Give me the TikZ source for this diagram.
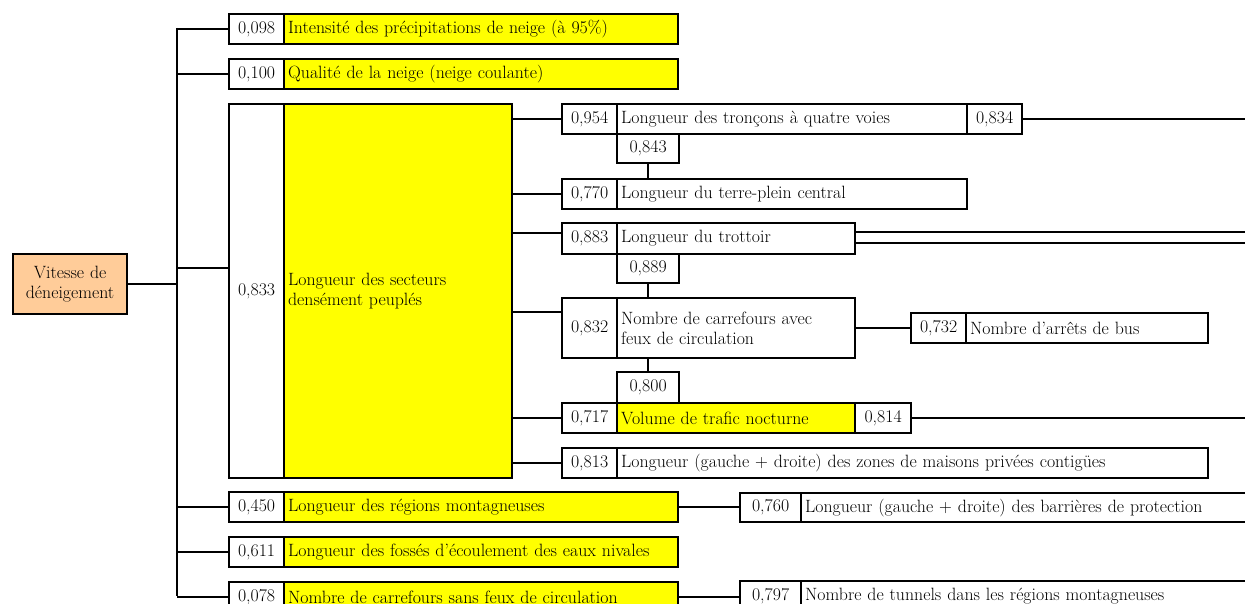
\documentclass[tikz,border=0pt]{standalone}
\usepackage{fontspec}
\newcommand\fs{\fontsize{17.8}{20}\selectfont}
\definecolor{yy}{HTML}{FFFF00}
\definecolor{rootc}{HTML}{FFCC99}
\tikzset{
  cellbox/.style={draw, line width=2.2pt, inner xsep=4pt, inner ysep=0pt, anchor=north west, font=\fs, fill=white, align=center},
  conn/.style={line width=2pt},
}
\newcommand\mkcell[7]{%
  \pgfmathsetmacro\cw{#4-#2}%
  \pgfmathsetmacro\ch{#5-#3}%
  \pgfmathsetmacro\tw{#4-#2-8}%
  \node[cellbox, minimum width=\cw pt, minimum height=\ch pt, text width=\tw pt, #6] (#1) at (#2,#3) {#7};}
\begin{document}
\begin{tikzpicture}[x=1pt,y=-1pt]
\useasboundingbox (0,0) rectangle (1245,604);
\clip (0,0) rectangle (1245,604);
% root
\mkcell{root}{12}{253}{126}{313}{fill=rootc}{Vitesse de\\déneigement}
% level 1
\mkcell{n098}{228}{13}{283}{43}{}{0,098}
\mkcell{t098}{283}{13}{677}{43}{fill=yy, align=left}{Intensité des précipitations de neige (à 95\%)}
\mkcell{n100}{228}{58}{283}{88}{}{0,100}
\mkcell{t100}{283}{58}{677}{88}{fill=yy, align=left}{Qualité de la neige (neige coulante)}
\mkcell{n833}{228}{103}{283}{477}{}{0,833}
\mkcell{t833}{283}{103}{511}{477}{fill=yy, align=left}{Longueur des secteurs\\densément peuplés}
\mkcell{n450}{228}{491}{283}{521}{}{0,450}
\mkcell{t450}{283}{491}{677}{521}{fill=yy, align=left}{Longueur des régions montagneuses}
\mkcell{n611}{228}{536}{283}{566}{}{0,611}
\mkcell{t611}{283}{536}{677}{566}{fill=yy, align=left}{Longueur des fossés d’écoulement des eaux nivales}
\mkcell{n078}{228}{581}{283}{611}{}{0,078}
\mkcell{t078}{283}{581}{677}{611}{fill=yy, align=left}{Nombre de carrefours sans feux de circulation}
% level 2
\mkcell{n954}{561}{103}{616}{133}{}{0,954}
\mkcell{t954}{616}{103}{966}{133}{align=left}{Longueur des tronçons à quatre voies}
\mkcell{n834}{966}{103}{1021}{133}{}{0,834}
\mkcell{n843}{616}{133}{678}{162}{}{0,843}
\mkcell{n770}{561}{178}{616}{208}{}{0,770}
\mkcell{t770}{616}{178}{966}{208}{align=left}{Longueur du terre-plein central}
\mkcell{n883}{561}{222}{616}{253}{}{0,883}
\mkcell{t883}{616}{222}{854}{253}{align=left}{Longueur du trottoir}
\mkcell{n889}{616}{253}{678}{282}{}{0,889}
\mkcell{n832}{561}{297}{616}{357}{}{0,832}
\mkcell{t832}{616}{297}{854}{357}{align=left}{Nombre de carrefours avec\\feux de circulation}
\mkcell{n732}{910}{312}{965}{342}{}{0,732}
\mkcell{t732}{965}{312}{1207}{342}{align=left}{Nombre d’arrêts de bus}
\mkcell{n800}{616}{371}{678}{402}{}{0,800}
\mkcell{n717}{561}{402}{616}{432}{}{0,717}
\mkcell{t717}{616}{402}{854}{432}{fill=yy, align=left}{Volume de trafic nocturne}
\mkcell{n814}{854}{402}{910}{432}{}{0,814}
\mkcell{n813}{561}{447}{616}{477}{}{0,813}
\mkcell{t813}{616}{447}{1207}{477}{align=left}{Longueur (gauche + droite) des zones de maisons privées contigües}
\mkcell{n760}{739}{492}{800}{521}{}{0,760}
\mkcell{t760}{800}{492}{1260}{521}{align=left}{Longueur (gauche + droite) des barrières de protection}
\mkcell{n797}{739}{580}{800}{610}{}{0,797}
\mkcell{t797}{800}{580}{1260}{610}{align=left}{Nombre de tunnels dans les régions montagneuses}
% bus
\coordinate (bt) at (177,28);
\coordinate (bb) at (177,596);
\coordinate (edge) at (1250,0);
\draw[conn] (bt) -- (bb);
\draw[conn] (root.east) -- (root.east -| bt);
\draw[conn] (n098.west) -- (n098.west -| bt);
\draw[conn] (n100.west) -- (n100.west -| bt);
\draw[conn] (bt |- 0,268) -- (n833.west |- 0,268);
\draw[conn] (n450.west) -- (n450.west -| bt);
\draw[conn] (n611.west) -- (n611.west -| bt);
\draw[conn] (n078.west) -- (n078.west -| bt);
% big box branches
\draw[conn] (t833.east |- n954.west) -- (n954.west);
\draw[conn] (t833.east |- n770.west) -- (n770.west);
\draw[conn] (t833.east |- 0,233) -- (n883.west |- 0,233);
\draw[conn] (t833.east |- 0,312) -- (n832.west |- 0,312);
\draw[conn] (t833.east |- n717.west) -- (n717.west);
\draw[conn] (t833.east |- n813.west) -- (n813.west);
% right side
\draw[conn] (n834.east) -- (n834.east -| edge);
\draw[conn] (t883.east |- 0,232) -- (edge |- 0,232);
\draw[conn] (t883.east |- 0,243) -- (edge |- 0,243);
\draw[conn] (n814.east) -- (n814.east -| edge);
\draw[conn] (t832.east) -- (n732.west);
\draw[conn] (t450.east) -- (n760.west |- t450.east);
\draw[conn] (t078.east) -- (n797.west |- t078.east);
% verticals
\draw[conn] (n843.south) -- (n843.south |- n770.north);
\draw[conn] (n889.south) -- (n889.south |- t832.north);
\draw[conn] (n800.north |- t832.south) -- (n800.north);
\end{tikzpicture}
\end{document}
